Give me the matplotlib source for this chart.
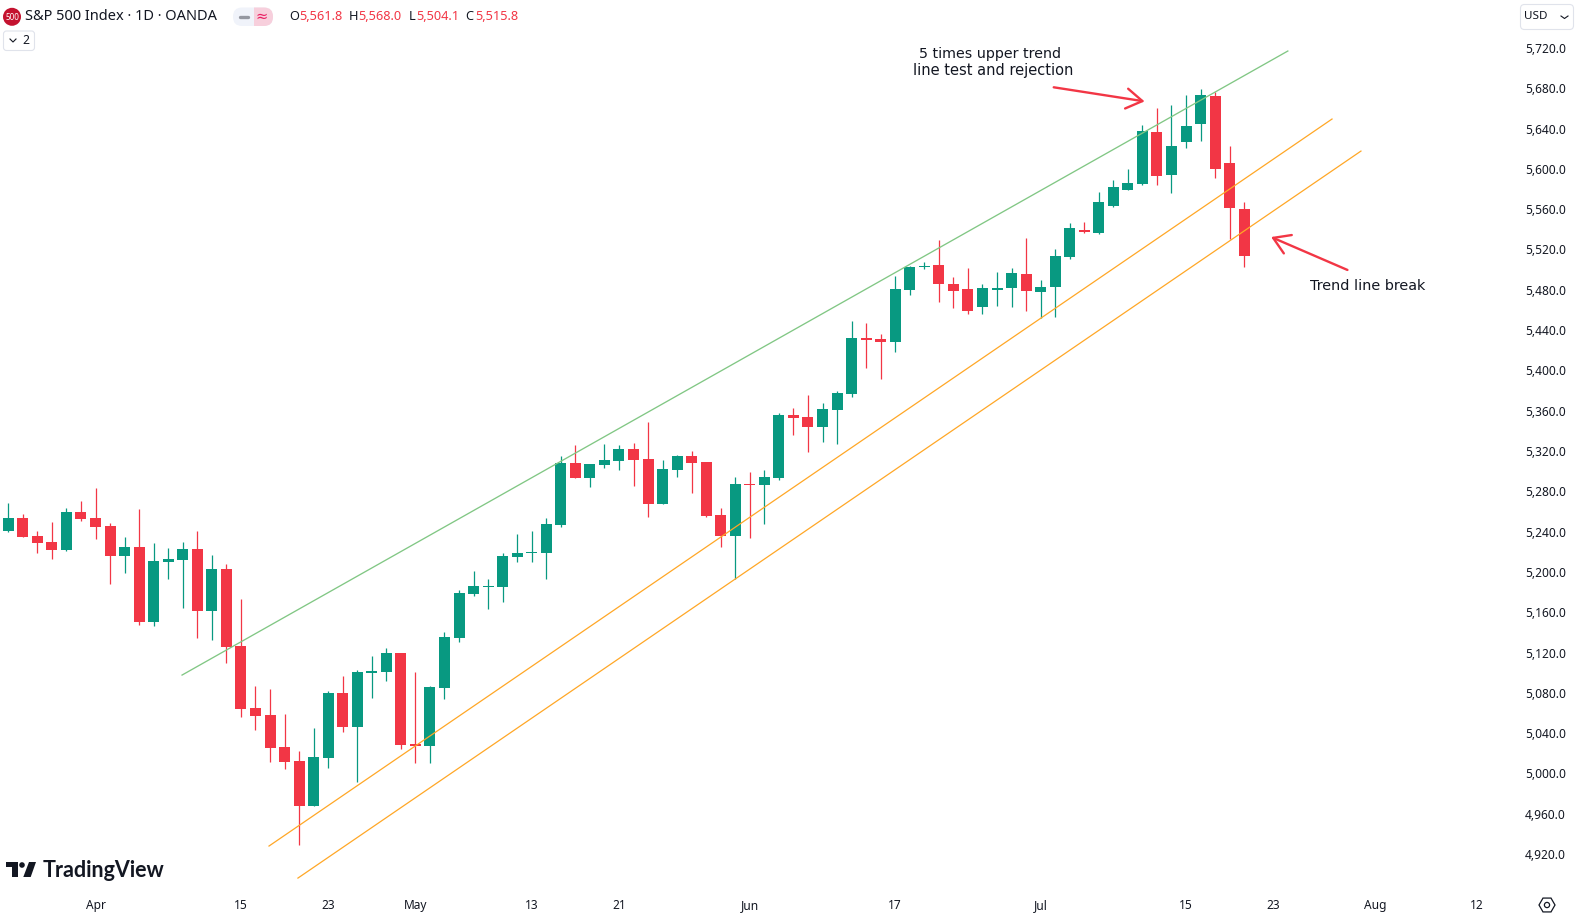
import matplotlib
matplotlib.use('Agg')
import matplotlib.pyplot as plt
from matplotlib.patches import FancyBboxPatch, Circle, Polygon, Rectangle, RegularPolygon

# daily candles
opens = [5240.6, 5253.5, 5235.6, 5229.6, 5221.7, 5259.4, 5253.5, 5245.5, 5215.7, 5224.7,
         5150.2, 5209.8, 5211.8, 5222.7, 5161.1, 5202.8, 5126.4, 5064.9, 5057.9, 5026.2,
         5012.3, 4967.6, 5015.2, 5079.8, 5046.0, 5099.6, 5100.6, 5119.5, 5029.1, 5027.2,
         5084.7, 5134.3, 5178.0, 5185.0, 5185.0, 5214.7, 5218.7, 5218.7, 5246.5, 5308.0,
         5293.2, 5306.1, 5310.0, 5321.9, 5312.0, 5267.3, 5301.1, 5315.0, 5309.0, 5256.4,
         5235.6, 5287.2, 5286.2, 5293.2, 5355.7, 5353.7, 5343.8, 5360.6, 5376.5, 5432.1,
         5431.1, 5428.1, 5479.8, 5502.6, 5504.6, 5485.7, 5480.7, 5462.9, 5479.8, 5481.7,
         5495.6, 5477.8, 5482.7, 5512.5, 5539.3, 5536.3, 5563.1, 5579.0, 5585.0, 5636.6,
         5593.9, 5626.6, 5644.5, 5672.3, 5605.6, 5560.2]
highs = [5268.3, 5257.4, 5240.6, 5249.5, 5263.4, 5270.3, 5283.2, 5248.5, 5234.6, 5262.4,
         5228.6, 5223.7, 5229.6, 5240.6, 5216.7, 5207.8, 5173.1, 5086.7, 5083.7, 5058.9,
         5022.2, 5045.0, 5081.7, 5096.6, 5102.6, 5116.5, 5124.4, 5119.5, 5100.6, 5086.7,
         5140.3, 5182.0, 5200.9, 5192.9, 5218.7, 5237.6, 5240.6, 5253.5, 5315.0, 5325.9,
         5307.1, 5326.9, 5325.9, 5327.9, 5348.7, 5311.0, 5316.0, 5320.0, 5309.0, 5263.4,
         5294.1, 5299.1, 5301.1, 5357.7, 5362.6, 5375.5, 5367.6, 5379.5, 5449.0, 5447.0,
         5436.1, 5493.6, 5503.6, 5507.5, 5529.4, 5492.7, 5501.6, 5485.7, 5497.6, 5501.6,
         5531.4, 5489.7, 5520.5, 5546.4, 5547.3, 5577.0, 5588.9, 5599.9, 5643.5, 5660.4,
         5663.4, 5673.3, 5679.3, 5676.3, 5622.5, 5567.1]
lows = [5239.6, 5234.6, 5218.7, 5212.8, 5220.7, 5250.5, 5232.6, 5187.9, 5198.9, 5147.2,
        5146.3, 5192.9, 5164.1, 5134.3, 5132.4, 5109.5, 5056.0, 5043.0, 5011.3, 5004.3,
        4928.9, 4967.6, 5005.3, 5041.0, 4991.4, 5074.8, 5091.7, 5024.2, 5010.3, 5010.3,
        5073.8, 5130.4, 5176.0, 5163.1, 5170.1, 5209.8, 5209.8, 5192.9, 5244.5, 5293.2,
        5284.2, 5303.1, 5301.1, 5285.2, 5254.4, 5267.3, 5294.1, 5278.3, 5254.4, 5224.7,
        5192.9, 5233.6, 5247.5, 5291.2, 5335.8, 5319.0, 5328.9, 5326.9, 5373.6, 5402.3,
        5391.4, 5418.2, 5474.8, 5500.6, 5467.8, 5461.9, 5455.9, 5455.9, 5463.9, 5462.9,
        5458.9, 5452.0, 5453.0, 5510.5, 5536.3, 5535.4, 5562.1, 5579.0, 5584.0, 5584.0,
        5576.0, 5620.6, 5627.6, 5590.9, 5530.4, 5502.6]
closes = [5253.5, 5234.6, 5228.6, 5221.7, 5259.4, 5252.5, 5244.5, 5215.7, 5224.7, 5150.2,
          5210.8, 5212.8, 5222.7, 5161.1, 5202.8, 5125.4, 5063.9, 5056.9, 5025.2, 5011.3,
          4967.6, 5016.2, 5079.8, 5046.0, 5100.6, 5101.6, 5119.5, 5028.1, 5027.2, 5085.7,
          5135.3, 5179.0, 5186.0, 5186.0, 5215.7, 5218.7, 5219.7, 5247.6, 5308.0, 5293.2,
          5307.1, 5311.0, 5321.9, 5311.0, 5267.3, 5302.1, 5315.0, 5308.0, 5255.4, 5235.6,
          5287.2, 5286.2, 5294.1, 5355.7, 5352.7, 5343.8, 5361.6, 5377.5, 5432.1, 5430.1,
          5428.1, 5480.7, 5502.6, 5503.6, 5485.7, 5478.8, 5458.9, 5481.7, 5480.7, 5496.6,
          5478.8, 5482.7, 5513.5, 5541.3, 5537.4, 5567.1, 5582.0, 5585.9, 5637.6, 5592.9,
          5622.5, 5642.5, 5673.3, 5599.9, 5561.2, 5513.5]

price_ticks = list(range(4920, 5721, 40))
date_ticks = [6, 16, 22, 28, 36, 42, 51, 61, 71, 81, 87, 94, 101]
date_labels = ['Apr', '15', '23', 'May', '13', '21', 'Jun', '17', 'Jul', '15', '23', 'Aug', '12']

# trend lines as (bar, price) end points
upper_x = [11.95, 88.0]
upper_y = [5097.6, 5717.0]
mid_x = [17.93, 91.04]
mid_y = [4927.9, 5649.5]
low_x = [19.92, 93.03]
low_y = [4896.1, 5617.7]

GREEN = '#089981'
RED = '#F23645'
DARK = '#131722'
FONT = 'Noto Sans'

# pixel layout of the 1575x919 picture
W, H = 1575, 919
PLOT_R, PLOT_B = 1509, 888
BAR0, STEP = 8.3, 14.54
PX_PER_PRICE = 1.0075

plt.rcParams['font.family'] = [FONT, 'DejaVu Sans']
fig = plt.figure(figsize=(W / 100, H / 100), dpi=100, facecolor='white')
ax = fig.add_axes([0, 1 - PLOT_B / H, PLOT_R / W, PLOT_B / H])
ax.set_xlim(-BAR0 / STEP, (PLOT_R - BAR0) / STEP)
ax.set_ylim(5720 - (PLOT_B - 48) / PX_PER_PRICE, 5720 + 48 / PX_PER_PRICE)

xs = list(range(len(opens)))
colors = [GREEN if c >= o else RED for o, c in zip(opens, closes)]
ax.vlines(xs, lows, highs, colors=colors, linewidth=0.9, zorder=2)
bottoms = [min(o, c) for o, c in zip(opens, closes)]
heights = [max(abs(c - o), 1.5) for o, c in zip(opens, closes)]
ax.bar(xs, heights, bottom=bottoms, width=11 / STEP, color=colors, linewidth=0, zorder=3)

ax.plot(upper_x, upper_y, color='#81C784', lw=0.95, zorder=4)
ax.plot(mid_x, mid_y, color='#FFA726', lw=0.9, zorder=4)
ax.plot(low_x, low_y, color='#FFA726', lw=0.9, zorder=4)

arrow = dict(arrowstyle='->,head_length=1.15,head_width=0.72', color=RED, lw=1.7,
             mutation_scale=10, shrinkA=0, shrinkB=0)
ax.annotate('', xy=(78.15, 5667), xytext=(71.9, 5681), arrowprops=arrow, zorder=5)
ax.annotate('', xy=(86.85, 5532.4), xytext=(92.1, 5499.7), arrowprops=arrow, zorder=5)

ax.text(67.49, 5714, '5 times upper trend', ha='center', va='center',
        fontsize=10.3, color=DARK, family='DejaVu Sans')
ax.text(67.72, 5698, 'line test and rejection', ha='center', va='center',
        fontsize=10.5, color=DARK, family='DejaVu Sans')
ax.text(93.5, 5483.5, 'Trend line break', ha='center', va='center',
        fontsize=10.4, color=DARK, family='DejaVu Sans')

for side in ax.spines.values():
    side.set_visible(False)
ax.yaxis.tick_right()
ax.set_yticks(price_ticks)
ax.set_yticklabels([f'{v:,.1f}' for v in price_ticks])
ax.set_xticks(date_ticks)
ax.set_xticklabels(date_labels)
ax.tick_params(axis='y', length=0, pad=11.5, labelsize=8.6, labelcolor=DARK)
ax.tick_params(axis='x', length=0, pad=8, labelsize=8.6, labelcolor=DARK)

# chart furniture, placed in pixels
ui = fig.add_axes([0, 0, 1, 1], facecolor='none')
ui.set_xlim(0, W)
ui.set_ylim(H, 0)
ui.axis('off')

ui.add_patch(Circle((12, 16.8), 9, color='#C4122F', lw=0))
ui.text(12, 17, '500', ha='center', va='center', fontsize=5.8, color='white', fontweight='bold')
ui.text(25, 16.8, 'S&P 500 Index · 1D · OANDA', va='center', fontsize=10.5, color=DARK)

ui.add_patch(FancyBboxPatch((233, 7.5), 40, 18.5, boxstyle='round,pad=0,rounding_size=9',
                            fc='#F0F3FA', ec='none'))
pink = FancyBboxPatch((233, 7.5), 40, 18.5, boxstyle='round,pad=0,rounding_size=9',
                      fc='#F7CFDC', ec='none')
ui.add_patch(pink)
pink.set_clip_path(Rectangle((253.5, 0), 30, 40, transform=ui.transData))
ui.plot([240, 248], [16.8, 16.8], color='#9598A1', lw=2.4, solid_capstyle='round')
ui.text(262, 16.3, '≈', ha='center', va='center', fontsize=10.5, color='#E91E63',
        family='DejaVu Sans')

ohlc_keys = ['O', 'H', 'L', 'C']
ohlc_key_x = [289, 349, 409, 465.5]
ohlc_val_x = [299.5, 358.5, 416, 475]
ohlc_vals = ['5,561.8', '5,568.0', '5,504.1', '5,515.8']
for k, kx, vx, val in zip(ohlc_keys, ohlc_key_x, ohlc_val_x, ohlc_vals):
    ui.text(kx, 16.8, k, va='center', fontsize=9.2, color=DARK)
    ui.text(vx, 16.8, val, va='center', fontsize=9.2, color=RED)

ui.add_patch(FancyBboxPatch((3.5, 31), 31, 19.5, boxstyle='round,pad=0,rounding_size=3',
                            fc='white', ec='#E0E3EB', lw=0.8))
ui.plot([10, 13, 16], [39, 42, 39], color=DARK, lw=0.8)
ui.text(26, 40.5, '2', ha='center', va='center', fontsize=8.8, color=DARK)

ui.add_patch(FancyBboxPatch((1520.5, 4.5), 53, 25, boxstyle='round,pad=0,rounding_size=4',
                            fc='white', ec='#E0E3EB', lw=0.8))
ui.text(1524, 16.5, 'USD', va='center', fontsize=8.4, color=DARK)
ui.plot([1561, 1564.5, 1568], [16, 18.5, 16], color=DARK, lw=0.8)

ui.add_patch(RegularPolygon((1547, 905), 6, radius=8, orientation=0.5236, fc='none', ec=DARK, lw=0.9))
ui.add_patch(Circle((1547, 905), 2.6, fc='none', ec=DARK, lw=0.9))

ui.add_patch(Polygon([(6, 862), (18, 862), (18, 877), (12, 877), (12, 867), (6, 867)], fc=DARK, ec='none'))
ui.add_patch(Circle((22, 865), 2.8, fc=DARK, ec='none'))
ui.add_patch(Polygon([(29, 862), (36, 862), (30.7, 877), (23.3, 877)], fc=DARK, ec='none'))
ui.text(43, 877, 'TradingView', va='baseline', fontsize=15.5, fontweight='bold', color=DARK, family='Lato')

fig.savefig('out.png', dpi=100)
